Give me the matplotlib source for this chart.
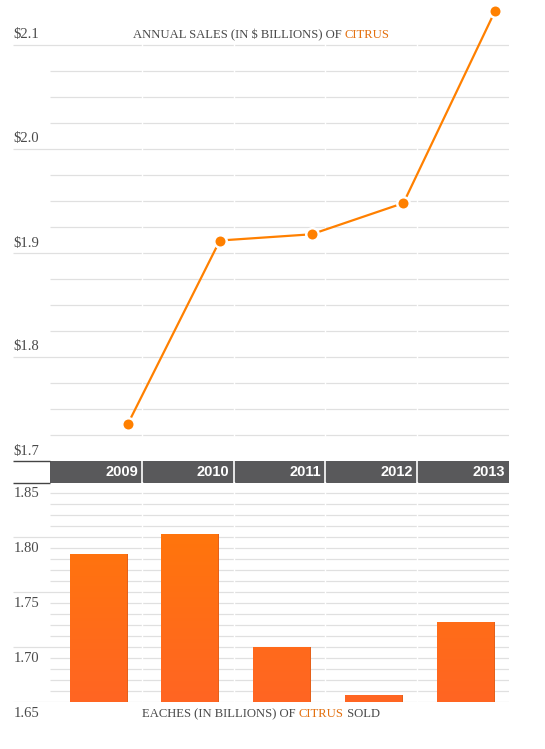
import matplotlib
matplotlib.use("Agg")
import matplotlib.pyplot as plt
import numpy as np
from matplotlib.colors import LinearSegmentedColormap

# ---------------- data ----------------
years = ["2009", "2010", "2011", "2012", "2013"]
sales = [1.736, 1.912, 1.918, 1.948, 2.133]          # $ billions
eaches = [1.785, 1.803, 1.700, 1.656, 1.723]          # billions sold
sales_ticks = [1.7, 1.8, 1.9, 2.0, 2.1]
sales_tick_labels = ["\\$1.7", "\\$1.8", "\\$1.9", "\\$2.0", "\\$2.1"]
eaches_ticks = [1.65, 1.70, 1.75, 1.80, 1.85]
eaches_tick_labels = ["1.65", "1.70", "1.75", "1.80", "1.85"]
top_title = ["ANNUAL SALES (IN \\$ BILLIONS) OF ", "CITRUS"]
bottom_title = ["EACHES (IN BILLIONS) OF ", "CITRUS", " SOLD"]

# ---------------- style ----------------
W, H = 545, 749
DPI = 100
ORANGE = "#ff8000"
ORANGE_TXT = "#e3700f"
TXT = "#4a4a4a"
GRID = "#e0e0e0"
HEADER = "#59595b"
SERIF = ["Liberation Serif", "DejaVu Serif"]
SANS = ["Liberation Sans", "DejaVu Sans"]

fig = plt.figure(figsize=(W / DPI, H / DPI), dpi=DPI)
fig.patch.set_facecolor("white")

COLW = 91.8  # px per category column
X0PX = 50    # px left of first column
def px2x(px):
    return (px - X0PX) / COLW - 0.5
XL, XR = px2x(13), px2x(509)
n = len(years)
xs = np.arange(n)

def rect(x0, y0, x1, y1):
    return [x0 / W, 1 - y1 / H, (x1 - x0) / W, (y1 - y0) / H]

# ---------------- top line chart ----------------
ax1 = fig.add_axes(rect(13, 0, 509, 461))
ax1.axis("off")
ax1.set_xlim(XL, XR)
top_scale = 1040.0
ax1.set_ylim(1.7, 1.7 + 461 / top_scale)

minor_top = np.arange(1.725, 2.101, 0.025)
for v in minor_top:
    major = any(abs(v - t) < 1e-6 for t in sales_ticks)
    ax1.hlines(v, XL if major else -0.5, XR, color=GRID, lw=0.9, zorder=1)
for k in range(1, n):
    ax1.vlines(k - 0.5, 1.7, 2.2, color="white", lw=1.0, zorder=2)
for t, lab in zip(sales_ticks, sales_tick_labels):
    ax1.annotate(lab, xy=(XL, t), xytext=(0, 10), textcoords="offset pixels",
                 ha="left", va="center", fontsize=10.5, color=TXT, family=SERIF)

ax1.plot(xs + 0.35, sales, color=ORANGE, lw=1.6, zorder=3, solid_capstyle="round")
ax1.plot(xs + 0.35, sales, "o", color=ORANGE, ms=9, mec="white", mew=1.8, zorder=4)

# ---------------- header band ----------------
axh = fig.add_axes(rect(13, 461, 509, 483))
axh.axis("off")
axh.set_xlim(XL, XR)
axh.set_ylim(0, 1)
axh.axvspan(-0.5, n - 0.5, color=HEADER, lw=0, zorder=1)
axh.hlines([1, 0], XL, -0.5, color="#444444", lw=1.0, zorder=2, clip_on=False)
for k in range(1, n):
    axh.vlines(k - 0.5, 0, 1, color="white", lw=1.2, zorder=3)
for i, y in enumerate(years):
    axh.annotate(y, xy=(i + 0.5, 0.5), xytext=(-4, 0), textcoords="offset pixels",
                 ha="right", va="center", fontsize=10.5, fontweight="bold",
                 color="white", family=SANS)

# ---------------- bottom bar chart ----------------
ax2 = fig.add_axes(rect(13, 482, 509, 702))
ax2.axis("off")
ax2.set_xlim(XL, XR)
ax2.set_ylim(1.65, 1.85)

minor_bot = np.arange(1.65, 1.8451, 0.01)
for v in minor_bot:
    major = any(abs(v - t) < 1e-6 for t in eaches_ticks)
    ax2.hlines(v, XL if major else -0.5, XR, color=GRID, lw=0.9, zorder=1)
for k in range(1, n):
    ax2.vlines(k - 0.5, 1.6, 1.9, color="white", lw=1.0, zorder=2)
for t, lab in zip(eaches_ticks, eaches_tick_labels):
    ax2.annotate(lab, xy=(XL, t), xytext=(1, -11), textcoords="offset pixels",
                 ha="left", va="center", fontsize=10.5, color=TXT, family=SERIF,
                 annotation_clip=False)

bw = 58 / COLW
bars = ax2.bar(xs + 0.03, [e - 1.65 for e in eaches], bottom=1.65, width=bw,
               color="#e4601a", lw=0, zorder=3)
cmap = LinearSegmentedColormap.from_list("g", ["#ff6523", "#ff7a05"])
grad = np.linspace(0, 1, 256).reshape(-1, 1)
edge = 1.8 / COLW
for b, e in zip(bars, eaches):
    x0 = b.get_x()
    im = ax2.imshow(grad, cmap=cmap, origin="lower", aspect="auto",
                    extent=(x0, x0 + b.get_width() - edge, 1.65, 1.85), zorder=4)
    im.set_clip_path(b)
ax2.set_xlim(XL, XR)
ax2.set_ylim(1.65, 1.85)

# ---------------- titles (two-colour) ----------------
def colored_title(parts, colors, y_px):
    texts = []
    for p, c in zip(parts, colors):
        texts.append(fig.text(0, 1 - y_px / H, p, color=c, fontsize=9.1,
                              family=SERIF, va="center", ha="left"))
    r = fig.canvas.get_renderer()
    widths = [t.get_window_extent(r).width for t in texts]
    total = sum(widths)
    cx = 261.0
    x = cx - total / 2
    for t, w in zip(texts, widths):
        t.set_x(x / W)
        x += w

colored_title(top_title, [TXT, ORANGE_TXT], 35)
colored_title(bottom_title, [TXT, ORANGE_TXT, TXT], 714)

fig.savefig("out.png", dpi=DPI, facecolor="white")
